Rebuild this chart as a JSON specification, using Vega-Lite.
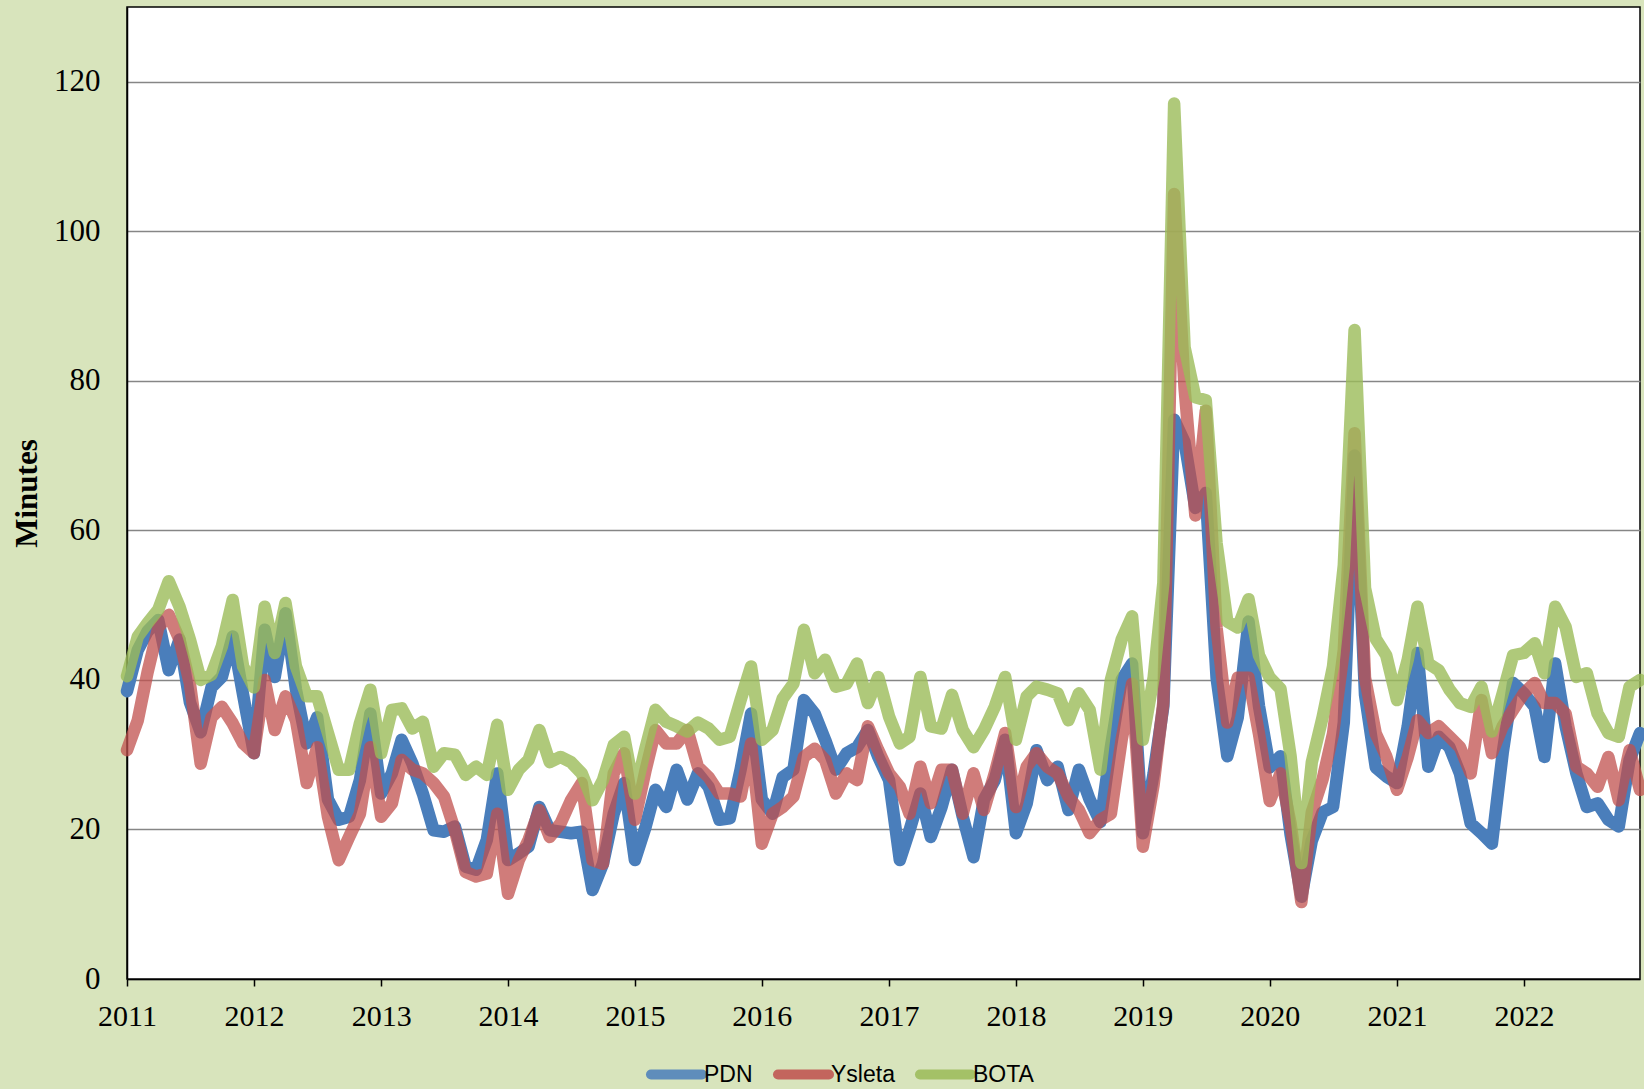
{
 "$schema": "https://vega.github.io/schema/vega-lite/v6.json",
 "width": 1513, "height": 972,
 "autosize": {"type": "none"},
 "padding": {"left": 127, "top": 7, "right": 4, "bottom": 110},
 "background": "#d8e4bc",
 "config": {"view": {"stroke": "black", "strokeWidth": 1.5, "fill": "white"}},
 "datasets": {"m": [
  {"date":"2011-01-01","PDN":38.5,"Ysleta":30.6,"BOTA":40.5},
  {"date":"2011-02-01","PDN":44,"Ysleta":34.6,"BOTA":45.8},
  {"date":"2011-03-01","PDN":46.5,"Ysleta":41,"BOTA":47.6},
  {"date":"2011-04-01","PDN":48,"Ysleta":47,"BOTA":49.4},
  {"date":"2011-05-01","PDN":41.3,"Ysleta":48.7,"BOTA":53.2},
  {"date":"2011-06-01","PDN":45.4,"Ysleta":45.4,"BOTA":49.8},
  {"date":"2011-07-01","PDN":37,"Ysleta":39.5,"BOTA":45.4},
  {"date":"2011-08-01","PDN":33,"Ysleta":28.8,"BOTA":40},
  {"date":"2011-09-01","PDN":39,"Ysleta":35,"BOTA":40.7},
  {"date":"2011-10-01","PDN":40.4,"Ysleta":36.4,"BOTA":44.5},
  {"date":"2011-11-01","PDN":45.8,"Ysleta":34.2,"BOTA":50.7},
  {"date":"2011-12-01","PDN":38,"Ysleta":31.5,"BOTA":41.8},
  {"date":"2012-01-01","PDN":30.2,"Ysleta":30.2,"BOTA":39},
  {"date":"2012-02-01","PDN":46.7,"Ysleta":40,"BOTA":49.8},
  {"date":"2012-03-01","PDN":40.4,"Ysleta":33.3,"BOTA":43.6},
  {"date":"2012-04-01","PDN":48.9,"Ysleta":37.8,"BOTA":50.3},
  {"date":"2012-05-01","PDN":38.7,"Ysleta":34.6,"BOTA":41.8},
  {"date":"2012-06-01","PDN":31.5,"Ysleta":26.2,"BOTA":37.8},
  {"date":"2012-07-01","PDN":35,"Ysleta":31,"BOTA":37.8},
  {"date":"2012-08-01","PDN":24,"Ysleta":21.7,"BOTA":32.9},
  {"date":"2012-09-01","PDN":21.3,"Ysleta":15.9,"BOTA":28},
  {"date":"2012-10-01","PDN":21.7,"Ysleta":19,"BOTA":28},
  {"date":"2012-11-01","PDN":26.6,"Ysleta":22.1,"BOTA":34.2},
  {"date":"2012-12-01","PDN":35.5,"Ysleta":31,"BOTA":38.7},
  {"date":"2013-01-01","PDN":24.8,"Ysleta":21.7,"BOTA":30.2},
  {"date":"2013-02-01","PDN":27.5,"Ysleta":23.5,"BOTA":36},
  {"date":"2013-03-01","PDN":32,"Ysleta":29.3,"BOTA":36.2},
  {"date":"2013-04-01","PDN":28.8,"Ysleta":28,"BOTA":33.5},
  {"date":"2013-05-01","PDN":24.8,"Ysleta":27.5,"BOTA":34.4},
  {"date":"2013-06-01","PDN":19.9,"Ysleta":26.2,"BOTA":28.4},
  {"date":"2013-07-01","PDN":19.7,"Ysleta":24.4,"BOTA":30.2},
  {"date":"2013-08-01","PDN":20.4,"Ysleta":19.9,"BOTA":30},
  {"date":"2013-09-01","PDN":15,"Ysleta":14.3,"BOTA":27.3},
  {"date":"2013-10-01","PDN":14.6,"Ysleta":13.7,"BOTA":28.4},
  {"date":"2013-11-01","PDN":18.6,"Ysleta":14.1,"BOTA":27.3},
  {"date":"2013-12-01","PDN":27.5,"Ysleta":22.1,"BOTA":34},
  {"date":"2014-01-01","PDN":15.9,"Ysleta":11.4,"BOTA":25.3},
  {"date":"2014-02-01","PDN":16.8,"Ysleta":15.9,"BOTA":28},
  {"date":"2014-03-01","PDN":17.7,"Ysleta":18.6,"BOTA":29.3},
  {"date":"2014-04-01","PDN":23,"Ysleta":22.6,"BOTA":33.3},
  {"date":"2014-05-01","PDN":19.9,"Ysleta":19,"BOTA":29},
  {"date":"2014-06-01","PDN":19.7,"Ysleta":20.8,"BOTA":29.7},
  {"date":"2014-07-01","PDN":19.5,"Ysleta":23.9,"BOTA":29},
  {"date":"2014-08-01","PDN":19.7,"Ysleta":26.2,"BOTA":27.5},
  {"date":"2014-09-01","PDN":11.9,"Ysleta":15.9,"BOTA":23.9},
  {"date":"2014-10-01","PDN":15.4,"Ysleta":15.4,"BOTA":26.6},
  {"date":"2014-11-01","PDN":22.1,"Ysleta":27.5,"BOTA":31.3},
  {"date":"2014-12-01","PDN":26.2,"Ysleta":30.2,"BOTA":32.4},
  {"date":"2015-01-01","PDN":15.9,"Ysleta":21.3,"BOTA":24.8},
  {"date":"2015-02-01","PDN":20.4,"Ysleta":28,"BOTA":31},
  {"date":"2015-03-01","PDN":25.3,"Ysleta":33.3,"BOTA":36},
  {"date":"2015-04-01","PDN":23,"Ysleta":31.5,"BOTA":34.4},
  {"date":"2015-05-01","PDN":28,"Ysleta":31.5,"BOTA":33.8},
  {"date":"2015-06-01","PDN":24,"Ysleta":33.3,"BOTA":33.1},
  {"date":"2015-07-01","PDN":27.5,"Ysleta":28.4,"BOTA":34.3},
  {"date":"2015-08-01","PDN":25.7,"Ysleta":27,"BOTA":33.5},
  {"date":"2015-09-01","PDN":21.3,"Ysleta":24.8,"BOTA":32},
  {"date":"2015-10-01","PDN":21.5,"Ysleta":24.8,"BOTA":32.4},
  {"date":"2015-11-01","PDN":28,"Ysleta":24.4,"BOTA":37.3},
  {"date":"2015-12-01","PDN":35.5,"Ysleta":31.5,"BOTA":41.8},
  {"date":"2016-01-01","PDN":24,"Ysleta":18.1,"BOTA":32},
  {"date":"2016-02-01","PDN":22.1,"Ysleta":22.1,"BOTA":33.3},
  {"date":"2016-03-01","PDN":27,"Ysleta":23,"BOTA":37.5},
  {"date":"2016-04-01","PDN":28,"Ysleta":24.4,"BOTA":39.5},
  {"date":"2016-05-01","PDN":37.3,"Ysleta":29.7,"BOTA":46.7},
  {"date":"2016-06-01","PDN":35.5,"Ysleta":30.8,"BOTA":40.9},
  {"date":"2016-07-01","PDN":32,"Ysleta":29.3,"BOTA":42.7},
  {"date":"2016-08-01","PDN":28,"Ysleta":24.8,"BOTA":39.1},
  {"date":"2016-09-01","PDN":30.2,"Ysleta":27.5,"BOTA":39.5},
  {"date":"2016-10-01","PDN":31,"Ysleta":26.6,"BOTA":42.2},
  {"date":"2016-11-01","PDN":33.3,"Ysleta":33.8,"BOTA":36.9},
  {"date":"2016-12-01","PDN":29.7,"Ysleta":30.6,"BOTA":40.4},
  {"date":"2017-01-01","PDN":26.6,"Ysleta":27.5,"BOTA":35.1},
  {"date":"2017-02-01","PDN":15.9,"Ysleta":25.7,"BOTA":31.5},
  {"date":"2017-03-01","PDN":19.9,"Ysleta":22.1,"BOTA":32.4},
  {"date":"2017-04-01","PDN":24.8,"Ysleta":28.4,"BOTA":40.4},
  {"date":"2017-05-01","PDN":19,"Ysleta":23.5,"BOTA":33.8},
  {"date":"2017-06-01","PDN":23,"Ysleta":28,"BOTA":33.5},
  {"date":"2017-07-01","PDN":28,"Ysleta":28,"BOTA":38},
  {"date":"2017-08-01","PDN":21.7,"Ysleta":22.1,"BOTA":33.3},
  {"date":"2017-09-01","PDN":16.3,"Ysleta":27.5,"BOTA":31},
  {"date":"2017-10-01","PDN":24,"Ysleta":22.6,"BOTA":33.3},
  {"date":"2017-11-01","PDN":26.6,"Ysleta":27.5,"BOTA":36.4},
  {"date":"2017-12-01","PDN":32,"Ysleta":32.9,"BOTA":40.4},
  {"date":"2018-01-01","PDN":19.5,"Ysleta":23,"BOTA":32},
  {"date":"2018-02-01","PDN":23.5,"Ysleta":28.4,"BOTA":37.8},
  {"date":"2018-03-01","PDN":30.6,"Ysleta":30.2,"BOTA":39.1},
  {"date":"2018-04-01","PDN":26.6,"Ysleta":28.4,"BOTA":38.7},
  {"date":"2018-05-01","PDN":28.4,"Ysleta":27.5,"BOTA":38.2},
  {"date":"2018-06-01","PDN":22.6,"Ysleta":24.4,"BOTA":34.6},
  {"date":"2018-07-01","PDN":28,"Ysleta":22.6,"BOTA":38.2},
  {"date":"2018-08-01","PDN":24,"Ysleta":19.5,"BOTA":36},
  {"date":"2018-09-01","PDN":21,"Ysleta":21.3,"BOTA":28},
  {"date":"2018-10-01","PDN":31,"Ysleta":22.1,"BOTA":40},
  {"date":"2018-11-01","PDN":40,"Ysleta":32,"BOTA":45.4},
  {"date":"2018-12-01","PDN":42.2,"Ysleta":39.5,"BOTA":48.5},
  {"date":"2019-01-01","PDN":19.5,"Ysleta":17.7,"BOTA":32},
  {"date":"2019-02-01","PDN":27.5,"Ysleta":26,"BOTA":40.3},
  {"date":"2019-03-01","PDN":36.5,"Ysleta":37,"BOTA":53},
  {"date":"2019-04-01","PDN":74.8,"Ysleta":105,"BOTA":117.1},
  {"date":"2019-05-01","PDN":71.8,"Ysleta":79,"BOTA":84.5},
  {"date":"2019-06-01","PDN":63,"Ysleta":62,"BOTA":77.8},
  {"date":"2019-07-01","PDN":65,"Ysleta":76,"BOTA":77.4},
  {"date":"2019-08-01","PDN":40.3,"Ysleta":47,"BOTA":58.3},
  {"date":"2019-09-01","PDN":29.8,"Ysleta":34.3,"BOTA":47.8},
  {"date":"2019-10-01","PDN":35,"Ysleta":40.3,"BOTA":47},
  {"date":"2019-11-01","PDN":47.8,"Ysleta":40.3,"BOTA":50.8},
  {"date":"2019-12-01","PDN":36.5,"Ysleta":32.8,"BOTA":43.3},
  {"date":"2020-01-01","PDN":28.3,"Ysleta":23.8,"BOTA":40.3},
  {"date":"2020-02-01","PDN":29.8,"Ysleta":27.5,"BOTA":38.8},
  {"date":"2020-03-01","PDN":19.3,"Ysleta":20.8,"BOTA":29.8},
  {"date":"2020-04-01","PDN":11,"Ysleta":10.3,"BOTA":15.5},
  {"date":"2020-05-01","PDN":18.5,"Ysleta":22.3,"BOTA":29},
  {"date":"2020-06-01","PDN":22.3,"Ysleta":26.7,"BOTA":35},
  {"date":"2020-07-01","PDN":23,"Ysleta":32.8,"BOTA":41.8},
  {"date":"2020-08-01","PDN":34.3,"Ysleta":44,"BOTA":55.3},
  {"date":"2020-09-01","PDN":70,"Ysleta":73,"BOTA":86.8},
  {"date":"2020-10-01","PDN":38,"Ysleta":40.3,"BOTA":52.3},
  {"date":"2020-11-01","PDN":28.3,"Ysleta":32.8,"BOTA":45.5},
  {"date":"2020-12-01","PDN":27.1,"Ysleta":29.8,"BOTA":43.3},
  {"date":"2021-01-01","PDN":26.2,"Ysleta":25.3,"BOTA":37.3},
  {"date":"2021-02-01","PDN":33.8,"Ysleta":29.7,"BOTA":42.7},
  {"date":"2021-03-01","PDN":43.6,"Ysleta":34.6,"BOTA":49.8},
  {"date":"2021-04-01","PDN":28.4,"Ysleta":32.9,"BOTA":42.2},
  {"date":"2021-05-01","PDN":32.4,"Ysleta":33.8,"BOTA":41.3},
  {"date":"2021-06-01","PDN":31,"Ysleta":32.4,"BOTA":38.7},
  {"date":"2021-07-01","PDN":27.5,"Ysleta":31,"BOTA":36.9},
  {"date":"2021-08-01","PDN":20.8,"Ysleta":27.5,"BOTA":36.4},
  {"date":"2021-09-01","PDN":19.5,"Ysleta":37.3,"BOTA":39.1},
  {"date":"2021-10-01","PDN":18.1,"Ysleta":30.2,"BOTA":33.1},
  {"date":"2021-11-01","PDN":30.2,"Ysleta":33.8,"BOTA":38.2},
  {"date":"2021-12-01","PDN":39.6,"Ysleta":36,"BOTA":43.3},
  {"date":"2022-01-01","PDN":38.2,"Ysleta":38.2,"BOTA":43.6},
  {"date":"2022-02-01","PDN":36.4,"Ysleta":39.6,"BOTA":44.9},
  {"date":"2022-03-01","PDN":29.7,"Ysleta":36.9,"BOTA":40.9},
  {"date":"2022-04-01","PDN":42.2,"Ysleta":36.9,"BOTA":49.8},
  {"date":"2022-05-01","PDN":33.8,"Ysleta":35.5,"BOTA":47.1},
  {"date":"2022-06-01","PDN":27.5,"Ysleta":28.4,"BOTA":40.4},
  {"date":"2022-07-01","PDN":23,"Ysleta":27.5,"BOTA":40.9},
  {"date":"2022-08-01","PDN":23.5,"Ysleta":25.7,"BOTA":35.5},
  {"date":"2022-09-01","PDN":21.3,"Ysleta":29.7,"BOTA":32.9},
  {"date":"2022-10-01","PDN":20.4,"Ysleta":23.9,"BOTA":32.4},
  {"date":"2022-11-01","PDN":29.3,"Ysleta":30.6,"BOTA":39.1},
  {"date":"2022-12-01","PDN":32.9,"Ysleta":25.3,"BOTA":40}
 ]},
 "data": {"name": "m"},
 "transform": [{"fold": ["PDN", "Ysleta", "BOTA"], "as": ["series", "minutes"]}],
 "encoding": {
  "x": {"field": "date", "type": "temporal",
   "scale": {"type": "utc", "domain": [{"year": 2011, "month": 1, "date": 1, "utc": true}, {"year": 2022, "month": 12, "date": 1, "utc": true}]},
   "axis": {"title": null, "format": "%Y", "formatType": "utc",
    "values": [{"year":2011,"month":1,"date":1,"utc":true},{"year":2012,"month":1,"date":1,"utc":true},{"year":2013,"month":1,"date":1,"utc":true},{"year":2014,"month":1,"date":1,"utc":true},{"year":2015,"month":1,"date":1,"utc":true},{"year":2016,"month":1,"date":1,"utc":true},{"year":2017,"month":1,"date":1,"utc":true},{"year":2018,"month":1,"date":1,"utc":true},{"year":2019,"month":1,"date":1,"utc":true},{"year":2020,"month":1,"date":1,"utc":true},{"year":2021,"month":1,"date":1,"utc":true},{"year":2022,"month":1,"date":1,"utc":true}],
    "grid": false, "domainColor": "black", "domainWidth": 1.5, "ticks": true, "tickColor": "black", "tickSize": 7, "tickWidth": 1.5,
    "labelFont": "Liberation Serif", "labelFontSize": 30, "labelColor": "black", "labelPadding": 15, "labelFlush": false, "labelOverlap": false}},
  "y": {"field": "minutes", "type": "quantitative", "scale": {"domain": [0, 130], "nice": false},
   "axis": {"title": "Minutes", "values": [0, 20, 40, 60, 80, 100, 120],
    "grid": true, "gridColor": "#868686", "gridWidth": 1.5, "domainColor": "black", "domainWidth": 1.5, "ticks": false,
    "labelFont": "Liberation Serif", "labelFontSize": 31, "labelColor": "black", "labelPadding": 27,
    "titleFont": "Liberation Serif", "titleFontSize": 31, "titleFontWeight": "bold", "titleColor": "black",
    "titleX": -100, "titleY": 486, "titleAngle": 270, "titleBaseline": "middle", "titleAlign": "center"}},
  "color": {"field": "series", "type": "nominal",
   "scale": {"domain": ["PDN", "Ysleta", "BOTA"], "range": ["#4a7ebb", "#c0504d", "#9bbb59"]},
   "legend": {"title": null, "orient": "none", "direction": "horizontal", "legendX": 519, "legendY": 1037,
    "symbolType": "stroke", "symbolSize": 2601, "symbolStrokeWidth": 10, "symbolOpacity": 0.85,
    "labelFont": "Liberation Sans", "labelFontSize": 23, "labelColor": "black", "labelOffset": -3,
    "gridAlign": "none", "columnPadding": 5,
    "encode": {"symbols": {"update": {"strokeCap": {"value": "round"}}}}}}
 },
 "layer": [
  {"transform": [{"filter": "datum.series === 'PDN'"}], "mark": {"type": "line", "strokeWidth": 12.5, "strokeCap": "round", "strokeJoin": "round", "opacity": 1}},
  {"transform": [{"filter": "datum.series === 'Ysleta'"}], "mark": {"type": "line", "strokeWidth": 12.5, "strokeCap": "round", "strokeJoin": "round", "opacity": 0.75}},
  {"transform": [{"filter": "datum.series === 'BOTA'"}], "mark": {"type": "line", "strokeWidth": 12.5, "strokeCap": "round", "strokeJoin": "round", "opacity": 0.8}}
 ]
}
